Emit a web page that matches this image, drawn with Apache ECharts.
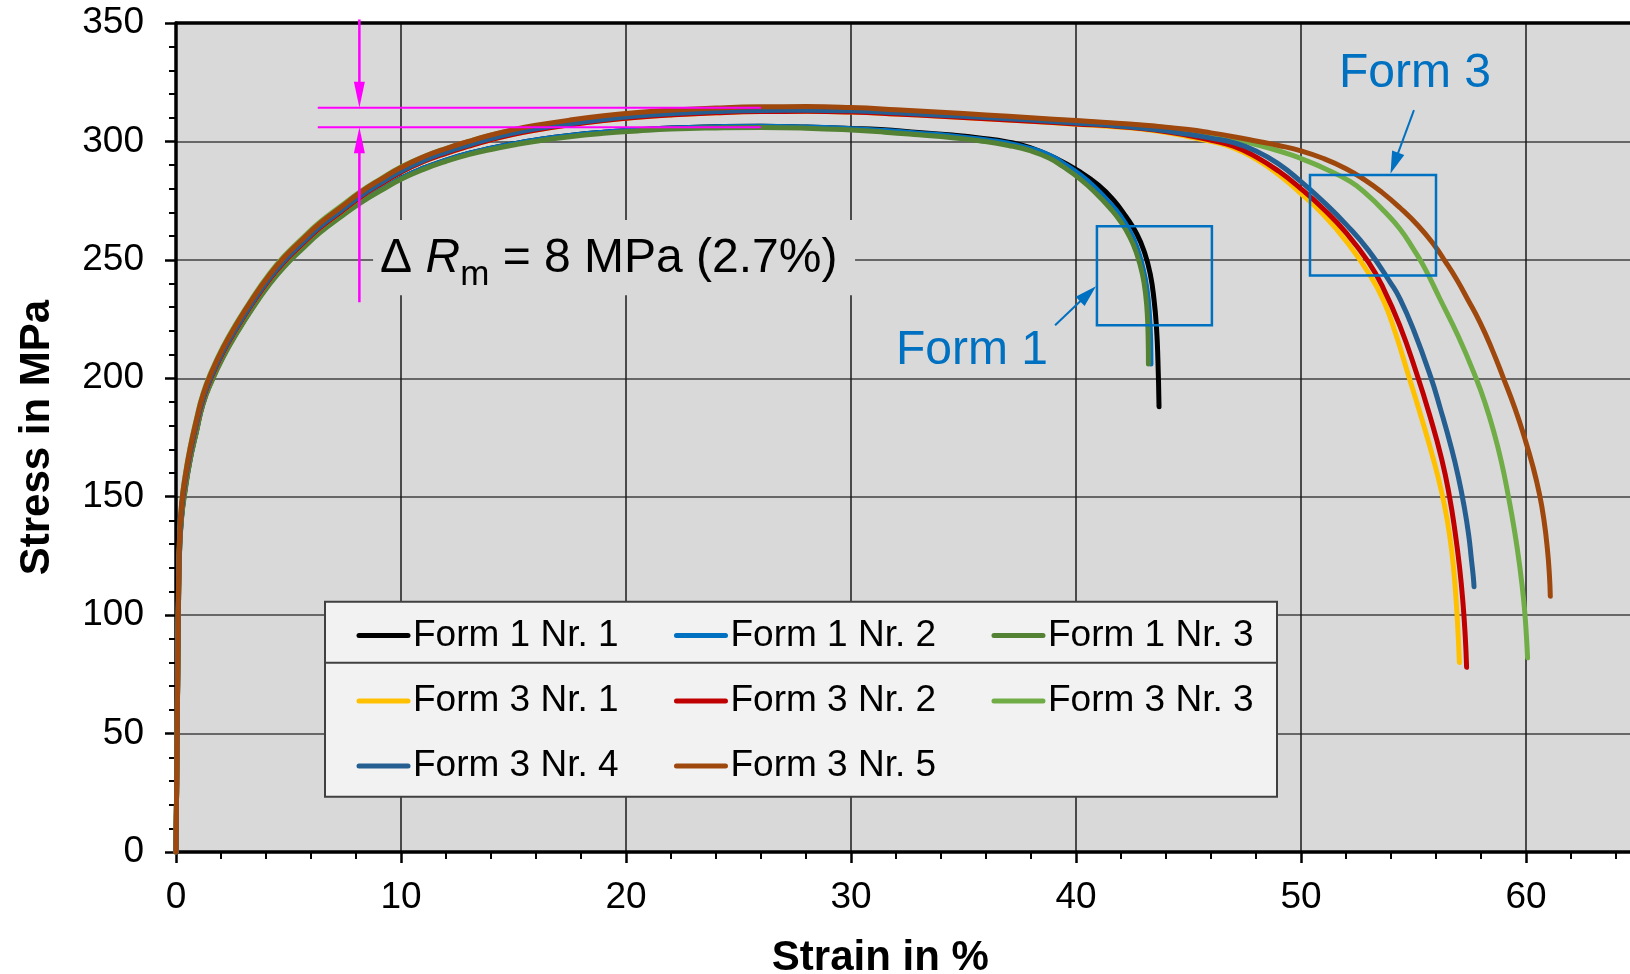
<!DOCTYPE html>
<html>
<head>
<meta charset="utf-8">
<script src="https://cdn.jsdelivr.net/npm/echarts@6.0.0/dist/echarts.min.js"></script>
<style>
html,body{margin:0;padding:0;background:#ffffff;}
#chart{width:1630px;height:974px;}
</style>
</head>
<body>
<div id="chart"></div>
<script>
// ---------------- DATA ----------------
const seriesNames = ['Form 1 Nr. 1','Form 1 Nr. 2','Form 1 Nr. 3','Form 3 Nr. 1','Form 3 Nr. 2','Form 3 Nr. 3','Form 3 Nr. 4','Form 3 Nr. 5'];

// [strain %, stress MPa]
const form1Nr1 = [[0,0],[0.06,57],[0.11,104],[0.16,128],[0.25,142],[0.4,153],[0.62,165.5],[0.9,177.5],[1.2,189.5],[1.6,199.5],[2.1,209.5],[2.7,219.5],[3.4,230],[4.1,239.5],[4.8,247.5],[5.6,255],[6.4,262],[7.3,268.5],[8.2,274.5],[9.1,279.7],[10,284.5],[11,288.7],[12,292.1],[13,294.9],[14,297.1],[15,299],[16,300.6],[17.5,302.5],[19,303.9],[20.5,304.9],[22,305.7],[24,306.2],[26,306.4],[28,306.1],[30,305.5],[31.3,305],[33,303.8],[34.5,302.7],[35.7,301.5],[37,299.7],[37.96,297.4],[39,293.3],[40.2,287],[41,281.5],[41.66,275.3],[42.2,268.5],[42.7,261],[43.05,253],[43.3,244],[43.47,233],[43.58,221],[43.64,208],[43.69,188]];
const form1Nr2 = [[0,0],[0.06,57],[0.11,104],[0.16,128],[0.25,142],[0.4,153],[0.62,165.5],[0.9,177.5],[1.2,189.5],[1.6,199.5],[2.1,209.5],[2.7,219.5],[3.4,230],[4.1,239.5],[4.8,247.5],[5.6,255],[6.4,262],[7.3,268.5],[8.2,274.5],[9.1,279.7],[10,284.5],[11,288.7],[12,292.1],[13,294.9],[14,297.1],[15,299],[16,300.6],[17.5,302.5],[19,303.9],[20.5,304.9],[22,305.7],[24,306.2],[26,306.4],[28,306.1],[30,305.4],[31.5,304.6],[33,303.5],[34.5,302.3],[35.7,301],[37,299.2],[38,297],[38.8,294.3],[39.4,291],[40.2,285.8],[40.9,280],[41.5,274],[41.96,268.8],[42.4,262],[42.7,255.5],[42.95,247.5],[43.15,238],[43.27,226],[43.32,215],[43.33,206]];
const form1Nr3 = [[0,0],[0.06,56],[0.11,103],[0.16,127],[0.25,141],[0.4,152],[0.62,165],[0.9,177],[1.2,189],[1.6,199],[2.1,209],[2.7,219],[3.4,229.5],[4.1,239],[4.8,247],[5.6,254.5],[6.4,261.5],[7.3,268],[8.2,274],[9.1,279.2],[10,284],[11,288.2],[12,291.6],[13,294.4],[14,296.6],[15,298.5],[16,300.1],[17.5,302],[19,303.4],[20.5,304.4],[22,305.2],[24,305.7],[26,305.9],[28,305.6],[30,304.8],[31.5,303.9],[33,302.8],[34.5,301.6],[35.7,300.3],[37,298.3],[38,296],[38.8,293],[39.4,289.5],[40.2,284],[40.9,278],[41.5,272],[41.96,266.5],[42.4,259.5],[42.7,252.5],[42.95,244],[43.1,235],[43.18,225],[43.21,215],[43.22,206]];
const form3Nr1 = [[0,0],[0.06,58],[0.11,106],[0.16,130.5],[0.25,144.5],[0.4,156],[0.62,168],[0.9,180],[1.2,191],[1.6,201],[2.1,211],[2.7,221],[3.4,231.5],[4.1,241],[4.8,249],[5.6,256.5],[6.4,263.5],[7.3,270],[8.2,276.5],[9.1,282],[10,287],[11,291.5],[12,295],[13,298],[14,300.7],[15,303],[16,304.8],[17.5,307],[19,308.8],[20.5,310.2],[22,311.2],[24,312.1],[26,312.6],[28,312.7],[30,312.4],[32,311.6],[34,310.6],[36,309.6],[38,308.5],[40,307.3],[42,306],[43.5,304.5],[45,302],[46,300],[47,297.3],[48,292.5],[49,286],[50,278],[51,269],[52,258],[53,244.5],[53.66,233],[54.2,219],[54.75,202],[55.3,185],[55.88,166],[56.25,152],[56.5,140],[56.7,127],[56.85,112],[56.96,96],[57.04,80]];
const form3Nr2 = [[0,0],[0.06,58],[0.11,106],[0.16,130.5],[0.25,144.5],[0.4,156],[0.62,168],[0.9,180],[1.2,191],[1.6,201],[2.1,211],[2.7,221],[3.4,231.5],[4.1,241],[4.8,249],[5.6,256.5],[6.4,263.5],[7.3,270],[8.2,276.5],[9.1,282],[10,287],[11,291.5],[12,295],[13,298],[14,300.7],[15,303],[16,304.8],[17.5,307],[19,308.8],[20.5,310.2],[22,311.2],[24,312.1],[26,312.6],[28,312.7],[30,312.4],[32,311.6],[34,310.6],[36,309.6],[38,308.5],[40,307.4],[42,306.2],[43.5,304.8],[45,302.5],[46,300.5],[47,298],[48,293.5],[49,287.5],[50,280],[51,271.5],[52,261.5],[53,249],[53.66,238],[54.4,222],[55.14,202],[55.7,185],[56.25,166],[56.6,150],[56.85,135],[57.05,120],[57.2,105],[57.3,91],[57.36,78]];
const form3Nr3 = [[0,0],[0.06,60],[0.11,111],[0.16,134],[0.25,147.5],[0.4,158.5],[0.62,170.5],[0.9,182.5],[1.2,193.5],[1.6,203.5],[2.1,213.5],[2.7,223.5],[3.4,234],[4.1,243.5],[4.8,251.5],[5.6,259],[6.4,266],[7.3,272.5],[8.2,278.8],[9.1,284.2],[10,289.2],[11,293.5],[12,297],[13,300],[14,302.6],[15,304.8],[16,306.5],[17.5,308.6],[19,310.3],[20.5,311.6],[22,312.6],[24,313.4],[26,313.8],[28,313.9],[30,313.5],[32,312.7],[34,311.7],[36,310.7],[38,309.6],[40,308.6],[42,307.4],[43.5,306.3],[45,304.6],[46,303.1],[47,301.2],[47.5,300],[48.5,297.4],[49.5,294.5],[50.2,292],[51,288.8],[52.2,283],[53,277],[53.7,270.5],[54.4,263],[55,254.5],[55.5,246.5],[56.15,234],[57,217.5],[57.78,200],[58.2,189],[58.55,178],[58.9,165],[59.2,151],[59.5,135],[59.73,120],[59.9,106],[60,94],[60.07,82]];
const form3Nr4 = [[0,0],[0.06,58],[0.11,107],[0.16,131],[0.25,145],[0.4,156.5],[0.62,168.5],[0.9,180.5],[1.2,191.5],[1.6,201.5],[2.1,211.5],[2.7,221.5],[3.4,232],[4.1,241.5],[4.8,249.5],[5.6,257],[6.4,264],[7.3,270.5],[8.2,277],[9.1,282.5],[10,287.5],[11,292],[12,295.5],[13,298.5],[14,301.2],[15,303.5],[16,305.3],[17.5,307.5],[19,309.3],[20.5,310.7],[22,311.7],[24,312.6],[26,313.1],[28,313.2],[30,312.9],[32,312.1],[34,311.1],[36,310.1],[38,309],[40,307.8],[42,306.4],[43.5,305],[45,303],[46,301.4],[47,299.5],[48,296],[49,290.5],[50,283],[51,274.5],[52,265],[53,254],[54,240],[54.4,233.5],[55,220.5],[55.75,201],[56.2,187],[56.7,170],[57,158],[57.25,146],[57.45,134],[57.58,123],[57.66,116],[57.69,112]];
const form3Nr5 = [[0,0],[0.06,60],[0.11,110],[0.16,133],[0.25,147],[0.4,158],[0.62,170],[0.9,182],[1.2,193],[1.6,203],[2.1,213],[2.7,223],[3.4,233.5],[4.1,243],[4.8,251],[5.6,258.5],[6.4,265.5],[7.3,272],[8.2,278.5],[9.1,284],[10,289],[11,293.5],[12,297],[13,300],[14,302.7],[15,305],[16,306.8],[17.5,309],[19,310.8],[20.5,312.2],[22,313.2],[24,314.1],[26,314.6],[28,314.7],[30,314.3],[32,313.4],[34,312.3],[36,311.2],[38,310],[40,308.8],[42,307.6],[43.5,306.5],[45,305],[46,303.6],[47,302],[48,300.2],[49,298.3],[50,296],[51,292.8],[52,288.5],[52.8,284],[53.6,278.5],[54.4,272],[55.2,264.5],[55.9,256.5],[56.4,249.5],[56.9,242],[57.4,233.5],[57.96,223.5],[58.5,212],[59,200],[59.5,187.5],[59.9,176],[60.3,163],[60.6,151],[60.8,140],[60.95,128],[61.04,117],[61.08,108]];

const seriesData = [form1Nr1, form1Nr2, form1Nr3, form3Nr1, form3Nr2, form3Nr3, form3Nr4, form3Nr5];

// Axis ticks
const xTicks = {min: 0, max: 70, interval: 10};
const yTicks = {min: 0, max: 350, interval: 50};

// Annotation values (data coordinates)
const rmLevels = [314.2, 306.0];          // upper / lower Rm lines
const rmLineSpan = [6.3, 26.0];           // strain span of the Rm lines
const rmArrowStrain = 8.15;
const rmArrowOuter = [351.5, 232.1];      // far ends of the two magenta arrows
const rmTextAnchor = [9.07, 243.6];
const rmTextBox = [[8.76, 266.8], [30.18, 235.1]];
const form1Box = [[40.93, 264.2], [46.04, 222.4]];
const form1Arrow = [[39.07, 222.4], [40.89, 238.9]];
const form1Label = [32.0, 204.6];
const form3Box = [[50.4, 285.8], [56.0, 243.4]];
const form3Arrow = [[55.02, 313.2], [53.98, 286.5]];
const form3Label = [51.69, 321.4];

// ---------------- STYLE ----------------
const FONT = '"Liberation Sans", Arial, Helvetica, sans-serif';
const colors = ['#000000','#0070c0','#548235','#ffc000','#c00000','#70ad47','#255e91','#9e480e'];
const MAG = '#ff00ff';
const BLUE = '#0070c0';

const measureCtx = document.createElement('canvas').getContext('2d');
function textWidth(t, font) { measureCtx.font = font; return measureCtx.measureText(t).width; }

function arrow(children, s, t, len, wid, color, lw) {
  const dx = t[0]-s[0], dy = t[1]-s[1];
  const L = Math.sqrt(dx*dx+dy*dy);
  const ux = dx/L, uy = dy/L;
  const bx = t[0]-ux*len, by = t[1]-uy*len;
  const nx = -uy, ny = ux;
  children.push({type:'line', shape:{x1:s[0], y1:s[1], x2:bx+ux*2, y2:by+uy*2}, style:{stroke:color, lineWidth:lw}});
  children.push({type:'polygon', shape:{points:[[t[0],t[1]],[bx+nx*wid/2, by+ny*wid/2],[bx-nx*wid/2, by-ny*wid/2]]}, style:{fill:color}});
}

function renderAnnot(params, api) {
  const P = p => api.coord(p);
  const ch = [];
  const b0 = P(rmTextBox[0]), b1 = P(rmTextBox[1]);
  ch.push({type:'rect', shape:{x:b0[0], y:b0[1], width:b1[0]-b0[0], height:b1[1]-b0[1]}, style:{fill:'#d9d9d9'}});
  rmLevels.forEach(v => {
    const a = P([rmLineSpan[0], v]), b = P([rmLineSpan[1], v]);
    ch.push({type:'line', shape:{x1:a[0], y1:a[1], x2:b[0], y2:b[1]}, style:{stroke:MAG, lineWidth:2}});
  });
  arrow(ch, P([rmArrowStrain, rmArrowOuter[0]]), P([rmArrowStrain, rmLevels[0]]), 26, 11, MAG, 2.5);
  arrow(ch, P([rmArrowStrain, rmArrowOuter[1]]), P([rmArrowStrain, rmLevels[1]]), 26, 11, MAG, 2.5);
  const anchor = P(rmTextAnchor);
  const fs = 48, fsSub = 35;
  const mid = (base, f) => base - 0.3465*f;
  let x = anchor[0];
  const pieces = [
    {t:'\u0394 ', f:fs, style:'normal', dy:0},
    {t:'R', f:fs, style:'italic', dy:0},
    {t:'m', f:fsSub, style:'normal', dy:12},
    {t:' = 8 MPa (2.7%)', f:fs, style:'normal', dy:0}
  ];
  pieces.forEach(p => {
    ch.push({type:'text', x:x, y:mid(anchor[1]+p.dy, p.f), style:{text:p.t, fill:'#000', fontSize:p.f, fontFamily:FONT, fontStyle:p.style, align:'left', verticalAlign:'middle'}});
    x += textWidth(p.t, p.style + ' ' + p.f + 'px ' + FONT);
  });
  [form1Box, form3Box].forEach(bx => {
    const a = P(bx[0]), b = P(bx[1]);
    ch.push({type:'rect', shape:{x:a[0], y:a[1], width:b[0]-a[0], height:b[1]-a[1]}, style:{fill:'none', stroke:BLUE, lineWidth:2.5}});
  });
  arrow(ch, P(form1Arrow[0]), P(form1Arrow[1]), 22, 13, BLUE, 2);
  arrow(ch, P(form3Arrow[0]), P(form3Arrow[1]), 22, 13, BLUE, 2);
  const l1 = P(form1Label), l3 = P(form3Label);
  ch.push({type:'text', x:l1[0], y:mid(l1[1], 48), style:{text:'Form 1', fill:BLUE, fontSize:48, fontFamily:FONT, align:'left', verticalAlign:'middle'}});
  ch.push({type:'text', x:l3[0], y:mid(l3[1], 48), style:{text:'Form 3', fill:BLUE, fontSize:48, fontFamily:FONT, align:'left', verticalAlign:'middle'}});
  return {type:'group', children: ch};
}

const chart = echarts.init(document.getElementById('chart'), null, {renderer:'canvas'});

const legendBase = {
  orient:'horizontal', left: 356.5, itemWidth: 49, itemHeight: 4, itemGap: 55.4, padding: 0,
  selectedMode: false,
  textStyle: {fontSize: 37, color:'#000', fontFamily: FONT},
  itemStyle: {opacity: 0, borderWidth: 0},
  lineStyle: {width: 5, cap: 'round'}
};

const lineSeries = seriesNames.map((n, i) => ({
  name: n, type: 'line', data: seriesData[i], symbol: 'none', showSymbol: false,
  smooth: 0.5, clip: true,
  lineStyle: {color: colors[i], width: 5, cap: 'round', join: 'round'},
  itemStyle: {color: colors[i]},
  z: 2, silent: true
}));

const option = {
  animation: false,
  backgroundColor: '#ffffff',
  textStyle: {fontFamily: FONT},
  grid: {left: 176, top: 23, width: 1575, height: 829, show: true, backgroundColor: '#d9d9d9', borderWidth: 0, containLabel: false, outerBoundsMode: 'none'},
  xAxis: [{
    type: 'value', min: xTicks.min, max: xTicks.max, interval: xTicks.interval, position: 'bottom',
    name: 'Strain in %', nameLocation: 'middle', nameGap: 85, nameMoveOverlap: false,
    nameTextStyle: {fontSize: 42, fontWeight: 'bold', color: '#000', fontFamily: FONT, padding: [0, 166.4, 0, 0]},
    axisLine: {show: true, onZero: false, lineStyle: {color: '#000', width: 3.5}},
    axisTick: {show: true, inside: false, length: 11, lineStyle: {color: '#000', width: 2.5}},
    minorTick: {show: true, splitNumber: 5, length: 7, lineStyle: {color: '#000', width: 2}},
    axisLabel: {show: true, margin: 27, fontSize: 37, color: '#000', fontFamily: FONT, showMaxLabel: true},
    splitLine: {show: true, lineStyle: {color: '#1a1a1a', width: 1.5}},
    minorSplitLine: {show: false}
  }, {
    type: 'value', min: xTicks.min, max: xTicks.max, position: 'top',
    axisLine: {show: true, onZero: false, lineStyle: {color: '#000', width: 3.5}},
    axisTick: {show: false}, axisLabel: {show: false}, splitLine: {show: false}
  }],
  yAxis: {
    type: 'value', min: yTicks.min, max: yTicks.max, interval: yTicks.interval,
    name: 'Stress in MPa', nameLocation: 'middle', nameGap: 118, nameRotate: 90, nameMoveOverlap: false,
    nameTextStyle: {fontSize: 42, fontWeight: 'bold', color: '#000', fontFamily: FONT},
    axisLine: {show: true, onZero: false, lineStyle: {color: '#000', width: 3.5}},
    axisTick: {show: true, inside: false, length: 11, lineStyle: {color: '#000', width: 2.5}},
    minorTick: {show: true, splitNumber: 5, length: 7, lineStyle: {color: '#000', width: 2}},
    axisLabel: {show: true, margin: 32, fontSize: 37, color: '#000', fontFamily: FONT},
    splitLine: {show: true, lineStyle: {color: '#404040', width: 1.5}},
    minorSplitLine: {show: false}
  },
  legend: [
    Object.assign({}, legendBase, {top: 617, data: seriesNames.slice(0, 3)}),
    Object.assign({}, legendBase, {top: 682.5, data: seriesNames.slice(3, 6)}),
    Object.assign({}, legendBase, {top: 747.5, data: seriesNames.slice(6)})
  ],
  graphic: [
    {type: 'rect', z: 3, shape: {x: 325, y: 601.7, width: 952, height: 195}, style: {fill: '#f2f2f2', stroke: '#404040', lineWidth: 2}},
    {type: 'line', z: 3, shape: {x1: 325, y1: 662.7, x2: 1277, y2: 662.7}, style: {stroke: '#404040', lineWidth: 2}}
  ],
  series: lineSeries.concat([{
    name: 'annotations', type: 'custom', data: [[0, 0]], renderItem: renderAnnot, clip: false, silent: true, z: 3
  }])
};
chart.setOption(option);
</script>
</body>
</html>
